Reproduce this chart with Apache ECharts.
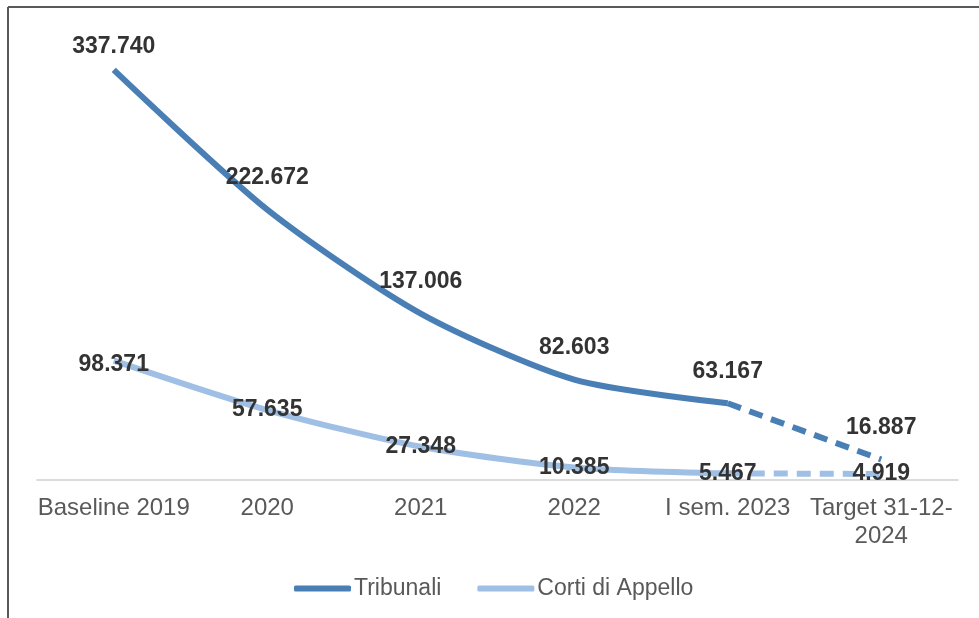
<!DOCTYPE html>
<html>
<head>
<meta charset="utf-8">
<script src="https://cdn.jsdelivr.net/npm/echarts@6/dist/echarts.min.js"></script>
<style>
  html, body { margin: 0; padding: 0; background: #fff; }
  #chart { width: 979px; height: 618px; }
</style>
</head>
<body>
<div id="chart"></div>
<script>
// categorie e valori
const categories = ["Baseline 2019", "2020", "2021", "2022", "I sem. 2023", "Target 31-12-\n2024"];
const tribunali = [337740, 222672, 137006, 82603, 63167, 16887];
const cortiAppello = [98371, 57635, 27348, 10385, 5467, 4919];

const lastSolid = 4; // da qui in poi tratteggiato (proiezione al target)

function solidPart(arr) {
  return arr.map((v, i) => (i <= lastSolid ? v : "-"));
}
function dashedPart(arr) {
  return arr.map((v, i) => (i >= lastSolid ? v : "-"));
}
const fmt = (v) => v.toLocaleString("it-IT");

const font = "Liberation Sans, Arial, sans-serif";
const blue = "#4a7fb5";
const light = "#9fc0e4";

function lbl(position, onlyLast, n) {
  return {
    show: true, position, distance: 20, fontSize: 23, fontWeight: "bold", color: "#333",
    formatter: (p) => (!onlyLast || p.dataIndex === n - 1 ? fmt(p.value) : "")
  };
}

// la prima etichetta dei Tribunali sta un po' più vicina alla linea
const tribSolid = solidPart(tribunali).map((v, i) =>
  i === 0 ? { value: v, label: { distance: 12 } } : v
);
const cortiSolid = solidPart(cortiAppello).map((v, i) =>
  i === 0 ? { value: v, label: { offset: [0, 4] } } : v
);

const chart = echarts.init(document.getElementById("chart"));
chart.setOption({
  animation: false,
  backgroundColor: "#fff",
  textStyle: { fontFamily: font },
  grid: { left: 37, right: 21, top: 55, bottom: 138 },
  legend: {
    data: ["Tribunali", "Corti di Appello"],
    left: 294, top: 577, padding: 0,
    itemWidth: 57, itemHeight: 6, itemGap: 36,
    icon: "roundRect",
    textStyle: { fontSize: 23, color: "#595959", fontFamily: font, padding: [0, 0, 0, -2] }
  },
  xAxis: {
    type: "category", data: categories, boundaryGap: true,
    axisLine: { lineStyle: { color: "#d0d0d0", width: 1.5 } },
    axisTick: { show: false },
    axisLabel: { fontSize: 24, color: "#595959", margin: 14, lineHeight: 28, interval: 0 }
  },
  yAxis: { type: "value", min: 0, max: 350000, show: false, splitLine: { show: false } },
  series: [
    {
      name: "Tribunali", type: "line", data: tribSolid, smooth: 0.25,
      symbol: "circle", symbolSize: 0.1, lineStyle: { color: blue, width: 6 }, itemStyle: { color: blue }, z: 3,
      label: lbl("top", false, tribunali.length)
    },
    {
      name: "Tribunali", type: "line", data: dashedPart(tribunali),
      symbol: "circle", symbolSize: 0.1, lineStyle: { color: blue, width: 6, type: [14, 9] }, itemStyle: { color: blue }, z: 3,
      label: lbl("top", true, tribunali.length)
    },
    {
      name: "Corti di Appello", type: "line", data: cortiSolid, smooth: 0.25,
      symbol: "circle", symbolSize: 0.1, lineStyle: { color: light, width: 6 }, itemStyle: { color: light }, z: 2,
      label: lbl("inside", false, cortiAppello.length)
    },
    {
      name: "Corti di Appello", type: "line", data: dashedPart(cortiAppello),
      symbol: "circle", symbolSize: 0.1, lineStyle: { color: light, width: 6, type: [14, 9] }, itemStyle: { color: light }, z: 2,
      label: lbl("inside", true, cortiAppello.length)
    }
  ],
  graphic: [
    { type: "line", shape: { x1: 8, y1: 7, x2: 979, y2: 7 }, style: { stroke: "#595959", lineWidth: 2 } },
    { type: "line", shape: { x1: 8, y1: 7, x2: 8, y2: 618 }, style: { stroke: "#595959", lineWidth: 2 } }
  ]
});
</script>
</body>
</html>
